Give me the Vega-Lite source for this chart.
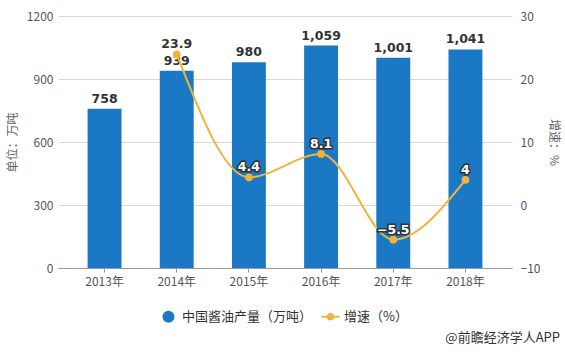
{
  "$schema": "https://vega.github.io/schema/vega-lite/v6.json",
  "width": 454,
  "height": 252,
  "autosize": "none",
  "padding": {"left": 58, "top": 16, "right": 53, "bottom": 84},
  "background": "white",
  "config": {
    "view": {"stroke": null},
    "font": "Noto Sans CJK SC",
    "axis": {"labelFont": "Noto Sans CJK SC", "titleFont": "Noto Sans CJK SC", "labelColor": "#555", "titleColor": "#666", "labelFontSize": 12, "titleFontSize": 12, "titleFontWeight": "normal"}
  },
  "title": {"text": "@前瞻经济学人APP", "orient": "bottom", "anchor": "end", "align": "right", "frame": "group", "fontSize": 13, "fontWeight": "normal", "color": "#333", "offset": 0, "dy": 8, "dx": 48, "font": "Noto Sans CJK SC"},
  "data": {"values": [
    {"year": "2013年", "output": 758, "growth": null},
    {"year": "2014年", "output": 939, "growth": 23.9},
    {"year": "2015年", "output": 980, "growth": 4.4},
    {"year": "2016年", "output": 1059, "growth": 8.1},
    {"year": "2017年", "output": 1001, "growth": -5.5},
    {"year": "2018年", "output": 1041, "growth": 4}
  ]},
  "encoding": {
    "x": {"field": "year", "type": "nominal", "sort": null,
      "scale": {"paddingInner": 0.53, "paddingOuter": 0.41},
      "axis": {"title": null, "labelAngle": 0, "domainColor": "#999", "tickColor": "#999", "tickSize": 4, "labelPadding": 4, "grid": false}}
  },
  "layer": [
    {
      "encoding": {
        "y": {"field": "output", "type": "quantitative",
          "scale": {"domain": [0, 1200]},
          "axis": {"title": "单位：万吨", "values": [0, 300, 600, 900, 1200], "format": "d", "domain": false, "ticks": false, "labelPadding": 5, "grid": true, "gridColor": "#d9d9d9", "titlePadding": 7}}
      },
      "layer": [
        {
          "mark": {"type": "bar", "color": "#1a78c4"},
          "encoding": {
            "color": {"datum": "中国酱油产量（万吨）", "type": "nominal",
              "scale": {"domain": ["中国酱油产量（万吨）", "增速（%）"], "range": ["#1a78c4", "#f0b43c"]},
              "legend": {"orient": "none", "legendX": 104, "legendY": 294, "direction": "horizontal", "title": null,
                "labelFontSize": 13, "labelColor": "#333", "labelFont": "Noto Sans CJK SC", "columnPadding": 4, "labelOffset": 7, "symbolSize": 144,
                "encode": {"symbols": {"update": {
                  "shape": {"signal": "datum.value === '增速（%）' ? 'M-1,0H1M0.3,0A0.3,0.3,0,1,1,-0.3,0A0.3,0.3,0,1,1,0.3,0' : 'circle'"},
                  "size": {"signal": "datum.value === '增速（%）' ? 324 : 144"},
                  "fill": {"signal": "datum.value === '增速（%）' ? '#f0b43c' : '#1a78c4'"},
                  "stroke": {"signal": "datum.value === '增速（%）' ? '#f0b43c' : '#1a78c4'"},
                  "strokeWidth": {"signal": "datum.value === '增速（%）' ? 2 : 0"}
                }}}}}
          }
        },
        {
          "mark": {"type": "text", "dy": -6, "fontWeight": "bold", "fontSize": 12.5, "font": "DejaVu Sans", "color": "#333", "baseline": "alphabetic"},
          "encoding": {
            "text": {"field": "output", "type": "quantitative", "format": ","}
          }
        }
      ]
    },
    {
      "transform": [{"filter": "datum.growth != null"}],
      "encoding": {
        "y": {"field": "growth", "type": "quantitative",
          "scale": {"domain": [-10, 30]},
          "axis": {"orient": "right", "title": "增速：%", "titleAngle": 90, "values": [-10, 0, 10, 20, 30], "domain": false, "ticks": false, "grid": false, "labelPadding": 8, "titlePadding": 7}}
      },
      "layer": [
        {
          "mark": {"type": "line", "interpolate": "monotone", "strokeWidth": 2},
          "encoding": {"color": {"datum": "增速（%）", "type": "nominal"}}
        },
        {
          "mark": {"type": "point", "filled": true, "size": 60, "opacity": 1},
          "encoding": {"color": {"datum": "增速（%）", "type": "nominal"}}
        },
        {
          "transform": [{"filter": "datum.year !== '2014年'"}],
          "mark": {"type": "text", "dy": -6, "fontWeight": "bold", "fontSize": 12.5, "font": "DejaVu Sans", "baseline": "alphabetic", "stroke": "#333", "strokeWidth": 3, "fill": "#333"},
          "encoding": {"text": {"field": "growth", "type": "quantitative"}}
        },
        {
          "mark": {"type": "text", "dy": -6, "fontWeight": "bold", "fontSize": 12.5, "font": "DejaVu Sans", "baseline": "alphabetic"},
          "encoding": {
            "text": {"field": "growth", "type": "quantitative"},
            "color": {"condition": {"test": "datum.year === '2014年'", "value": "#333"}, "value": "white"}
          }
        }
      ]
    }
  ],
  "resolve": {"scale": {"y": "independent"}}
}
